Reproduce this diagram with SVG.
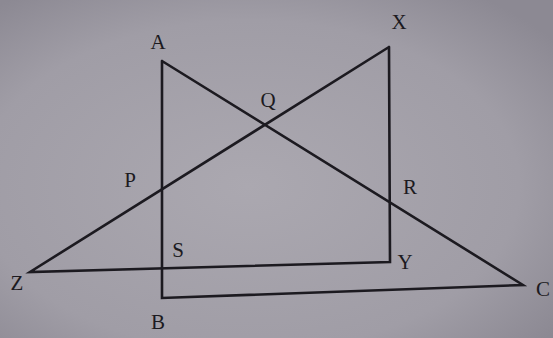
<svg xmlns="http://www.w3.org/2000/svg" width="553" height="338" viewBox="0 0 553 338">
  <defs>
    <radialGradient id="bg" cx="0.45" cy="0.55" r="0.7">
      <stop offset="0" stop-color="#aba8b0"/>
      <stop offset="0.7" stop-color="#a09da6"/>
      <stop offset="1" stop-color="#8c8993"/>
    </radialGradient>
    <style>
      .ln { stroke: #1c1a20; stroke-width: 2.6; fill: none; stroke-linejoin: miter; stroke-linecap: round; }
      .lb { font-family: "Liberation Serif", "Times New Roman", serif; font-size: 21px; fill: #1c1a20; text-anchor: middle; dominant-baseline: central; }
    </style>
  </defs>
  <rect width="553" height="338" fill="url(#bg)"/>
  <g id="connectors">
    <polyline id="ABC" class="ln" points="162,61 162,298 523,285 162,61"/>
    <polyline id="XYZ" class="ln" points="389,47 390,262 30,272 389,47"/>
  </g>
  <g id="node-A"><text class="lb" x="158" y="42">A</text></g>
  <g id="node-X"><text class="lb" x="399" y="22">X</text></g>
  <g id="node-Q"><text class="lb" x="268" y="100">Q</text></g>
  <g id="node-P"><text class="lb" x="130" y="180">P</text></g>
  <g id="node-R"><text class="lb" x="410" y="187">R</text></g>
  <g id="node-S"><text class="lb" x="178" y="250">S</text></g>
  <g id="node-Y"><text class="lb" x="405" y="262">Y</text></g>
  <g id="node-Z"><text class="lb" x="17" y="283">Z</text></g>
  <g id="node-B"><text class="lb" x="158" y="322">B</text></g>
  <g id="node-C"><text class="lb" x="543" y="289">C</text></g>
</svg>
